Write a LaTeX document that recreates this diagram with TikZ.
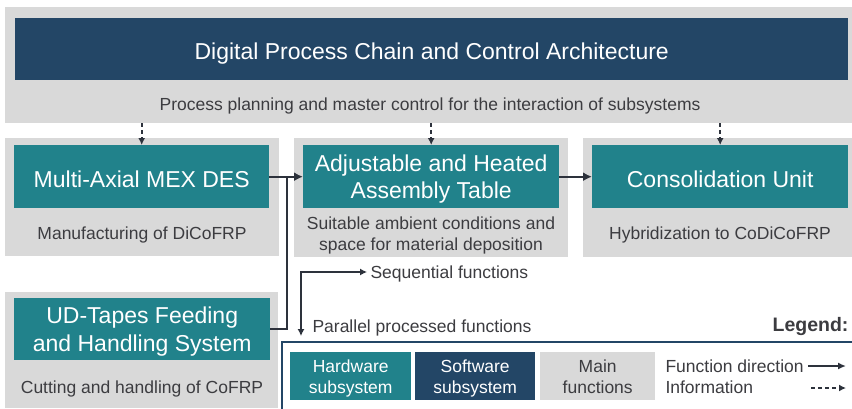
\documentclass[tikz,border=0pt]{standalone}
\usepackage{fontspec}
\setmainfont{Liberation Sans}
\usetikzlibrary{positioning,calc,arrows.meta}

\definecolor{navy}{RGB}{35,70,102}
\definecolor{petrol}{RGB}{33,130,139}
\definecolor{lgray}{RGB}{217,217,217}
\definecolor{txtgray}{RGB}{60,60,64}
\definecolor{arrowcol}{RGB}{45,50,60}

\tikzset{
	area/.style={fill=lgray, anchor=north west, inner sep=0pt},
	hwbox/.style={fill=petrol, text=white, anchor=north west, inner sep=0pt, align=center, text height=21pt, text depth=0pt, font=\fontsize{23}{27.6}\selectfont},
	twoline/.style={text height=48.6pt, text depth=4.8pt},
	swbox/.style={hwbox, fill=navy},
	desc/.style={text=txtgray, align=center, font=\fontsize{17.5}{21}\selectfont},
	legbox/.style={anchor=north west, inner sep=0pt, align=center, minimum width=121, minimum height=48, text height=38pt, text depth=4pt, font=\fontsize{17.5}{21}\selectfont},
	flow/.style={draw=arrowcol, line width=2pt, -{Latex[length=9pt,width=9pt]}},
	info/.style={draw=arrowcol, line width=1.6pt, dash pattern=on 4pt off 3pt, -{Latex[length=7pt,width=7pt]}},
}

\begin{document}
\begin{tikzpicture}[x=1pt,y=-1pt]
	\useasboundingbox[fill=white] (0,0) rectangle (852,408);

	% control architecture
	\node[area, minimum width=847, minimum height=116] (ctrl) at (5,7) {};
	\node[swbox, minimum width=833, minimum height=62] (dpc) at (15,18) {Digital Process Chain and Control Architecture};
	\node[desc] (plan) at (430,106) {Process planning and master control for the interaction of subsystems};

	% subsystems
	\node[area, minimum width=274, minimum height=118] (a1) at (5,138) {};
	\node[area, minimum width=274, minimum height=119] (a2) at (294,138) {};
	\node[area, minimum width=269, minimum height=119] (a3) at (583,138) {};
	\node[hwbox, minimum width=255, minimum height=63] (mex) at (14,145) {Multi-Axial MEX DES};
	\node[hwbox, twoline, minimum width=256, minimum height=63] (table) at (303,145) {Adjustable and Heated\\Assembly Table};
	\node[hwbox, minimum width=256, minimum height=63] (cons) at (592,145) {Consolidation Unit};
	\node[desc] (mexd) at (142,235) {Manufacturing of DiCoFRP};
	\node[desc] (tabled) at (431,235) {Suitable ambient conditions and\\space for material deposition};
	\node[desc] (consd) at (720,235) {Hybridization to CoDiCoFRP};

	\node[area, minimum width=273, minimum height=116] (a4) at (5,292) {};
	\node[hwbox, twoline, minimum width=256, minimum height=62] (ud) at (14,298) {UD-Tapes Feeding\\and Handling System};
	\node[desc] (udd) at (142,389) {Cutting and handling of CoFRP};

	% information from master control
	\draw[info] (mex.north |- ctrl.south) -- (mex.north);
	\draw[info] (table.north |- ctrl.south) -- (table.north);
	\draw[info] (cons.north |- ctrl.south) -- (cons.north);

	% function direction
	\coordinate (jn) at (287,176.5);
	\draw[flow] (mex.east) -- (table.west);
	\draw[flow] (table.east) -- (cons.west);
	\draw[draw=arrowcol, line width=2pt] (ud.east) -| (jn);

	% sequential / parallel
	\node[desc, anchor=west] (seq) at (367,274) {Sequential functions};
	\node[desc, anchor=west] (par) at (309,328) {Parallel processed functions};
	\coordinate (seqc) at (301,272);
	\coordinate (parc) at (301,336);
	\draw[draw=arrowcol, line width=1.2pt, {Latex[length=7pt,width=7pt]}-{Latex[length=7pt,width=7pt]}] (seq.west |- seqc) -| (parc);

	% legend
	\node[anchor=east, text=txtgray, font=\fontsize{19.5}{23}\bfseries\selectfont] (leg) at (852,326) {Legend:};
	\draw[navy, line width=1.3pt] (852,342) -| (282,410);
	\node[legbox, fill=petrol, text=white] (hw) at (290,352) {Hardware\\subsystem};
	\node[legbox, fill=navy, text=white, minimum width=120] (sw) at (415,352) {Software\\subsystem};
	\node[legbox, fill=lgray, text=txtgray, minimum width=115] (mf) at (540,352) {Main\\functions};
	\node[desc, anchor=west] (fdir) at (662,366) {Function direction};
	\node[desc, anchor=west] (finf) at (662,387) {Information};
	\coordinate (fa) at (808,366);
	\coordinate (fb) at (846,366);
	\coordinate (ia) at (811,388);
	\coordinate (ib) at (846,388);
	\draw[flow, line width=1.6pt, -{Latex[length=8pt,width=7pt]}] (fa) -- (fb);
	\draw[info] (ia) -- (ib);
\end{tikzpicture}
\end{document}
